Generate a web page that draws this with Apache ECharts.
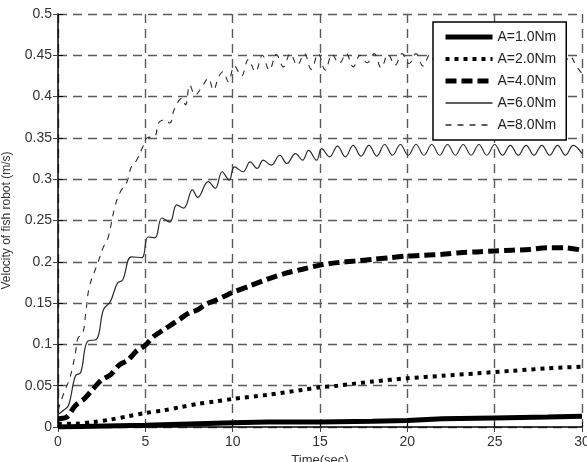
<!DOCTYPE html>
<html>
<head>
<meta charset="utf-8">
<script src="https://cdn.jsdelivr.net/npm/echarts@6/dist/echarts.min.js"></script>
<style>
  html, body { margin: 0; padding: 0; background: #fff; }
  #chart { width: 587px; height: 462px; }
</style>
</head>
<body>
<div id="chart"></div>
<script>
// values (time in sec, velocity in m/s)
const seriesNames = ["A=1.0Nm", "A=2.0Nm", "A=4.0Nm", "A=6.0Nm", "A=8.0Nm"];

const t1 = [0, 2, 5, 8, 10, 12, 15, 18, 20, 22, 25, 28, 30];
const v1 = [0.0, 0.001, 0.002, 0.004, 0.005, 0.006, 0.006, 0.007, 0.008, 0.010, 0.011, 0.012, 0.013];

const t2 = [0, 1, 2, 3, 4, 5, 6, 7, 8, 9, 10, 12, 14, 15, 16, 18, 20, 22, 24, 26, 28, 30];
const v2 = [0.004, 0.004, 0.006, 0.009, 0.013, 0.017, 0.020, 0.024, 0.028, 0.031, 0.034, 0.039, 0.045, 0.048,
            0.050, 0.055, 0.059, 0.062, 0.065, 0.068, 0.071, 0.073];

const t4 = [0, 0.5, 1, 1.5, 2, 2.5, 3, 3.5, 4, 4.5, 5, 5.5, 6, 6.5, 7, 7.5, 8, 8.5, 9, 9.5, 10,
            11, 12, 13, 14, 15, 16, 17, 18, 19, 20, 21, 22, 23, 24, 25, 26, 27, 28, 29, 30];
const v4 = [0.010, 0.012, 0.026, 0.034, 0.046, 0.057, 0.063, 0.075, 0.081, 0.092, 0.099, 0.110, 0.117, 0.124,
            0.131, 0.138, 0.142, 0.149, 0.153, 0.158, 0.163, 0.171, 0.179, 0.186, 0.191, 0.196, 0.199, 0.201,
            0.203, 0.205, 0.207, 0.208, 0.209, 0.211, 0.212, 0.213, 0.214, 0.215, 0.217, 0.217, 0.214];

const t6 = [0, 0.3, 0.6, 1.0, 1.3, 1.7, 2.2, 2.6, 3.0, 3.4, 3.7, 4.2, 4.8, 5.15, 5.55, 5.95, 6.4, 6.8, 7.2,
            7.7, 8.0, 8.6, 9.0, 9.4, 9.8, 10.1, 10.6, 11.0, 11.4, 11.75, 12.2, 12.7, 13.1, 13.6, 14.0, 14.35,
            14.8, 15.1, 15.55, 16.0, 16.45, 16.9, 17.35, 17.8, 18.25, 18.7, 19.15, 19.6, 20.05, 20.5, 20.95,
            21.4, 21.85, 22.3, 22.75, 23.2, 23.65, 24.1, 24.55, 25.0, 25.45, 25.9, 26.35, 26.8, 27.25, 27.7,
            28.15, 28.6, 29.05, 29.5, 30];
const v6 = [0.015, 0.020, 0.026, 0.062, 0.066, 0.104, 0.106, 0.142, 0.152, 0.174, 0.178, 0.206, 0.205, 0.230,
            0.229, 0.253, 0.248, 0.269, 0.265, 0.287, 0.278, 0.297, 0.289, 0.309, 0.299, 0.315, 0.309, 0.321,
            0.313, 0.323, 0.317, 0.329, 0.319, 0.331, 0.323, 0.335, 0.323, 0.337, 0.327, 0.340, 0.327, 0.341,
            0.328, 0.341, 0.328, 0.342, 0.329, 0.342, 0.329, 0.342, 0.329, 0.342, 0.329, 0.342, 0.329, 0.342,
            0.329, 0.342, 0.329, 0.342, 0.329, 0.341, 0.329, 0.341, 0.329, 0.341, 0.329, 0.341, 0.329, 0.341,
            0.331];

const t8 = [0, 0.3, 0.7, 1.0, 1.15, 1.4, 1.6, 1.8, 2.3, 2.6, 2.85, 3.25, 3.55, 3.95, 4.2, 4.5, 4.85, 5.1,
            5.55, 5.75, 6.1, 6.4, 6.65, 7.1, 7.3, 7.55, 7.85, 8.25, 8.6, 8.9, 9.2, 9.45, 9.75, 10.1, 10.5,
            10.9, 11.3, 11.7, 12.1, 12.5, 12.9, 13.3, 13.7, 14.1, 14.5, 14.9, 15.3, 15.7, 16.1, 16.5, 16.9,
            17.3, 17.7, 18.1, 18.5, 18.9, 19.3, 19.7, 20.1, 20.5, 20.9, 21.3, 21.7, 22.1, 22.5, 22.9, 23.3,
            23.7, 24.1, 24.5, 24.9, 25.3, 25.7, 26.1, 26.5, 26.9, 27.3, 27.7, 28.1, 28.5, 28.9, 29.3, 29.7, 30];
const v8 = [0.020, 0.039, 0.061, 0.090, 0.108, 0.112, 0.140, 0.170, 0.200, 0.218, 0.228, 0.266, 0.284, 0.297,
            0.315, 0.323, 0.339, 0.350, 0.352, 0.368, 0.372, 0.368, 0.384, 0.398, 0.390, 0.414, 0.402, 0.412,
            0.422, 0.408, 0.424, 0.430, 0.418, 0.437, 0.425, 0.445, 0.430, 0.450, 0.432, 0.451, 0.436, 0.452,
            0.438, 0.452, 0.433, 0.452, 0.432, 0.451, 0.440, 0.452, 0.436, 0.450, 0.441, 0.452, 0.435, 0.451,
            0.438, 0.452, 0.440, 0.452, 0.437, 0.451, 0.438, 0.452, 0.436, 0.451, 0.439, 0.452, 0.437, 0.451,
            0.438, 0.452, 0.436, 0.451, 0.439, 0.452, 0.437, 0.451, 0.436, 0.450, 0.437, 0.449, 0.436, 0.428];

const pairs = (t, v) => t.map((x, i) => [x, v[i]]);

const font = "'Liberation Sans', Arial, sans-serif";
const gridLine = { show: true, lineStyle: { color: "#5a5a5a", width: 1.4, type: [9, 6] } };

// one line style per series, shared by the plot and the legend
const styles = [
    { color: "#000", width: 5, type: "solid" },
    { color: "#000", width: 4, type: [4, 5] },
    { color: "#000", width: 5, type: [11, 5] },
    { color: "#2a2a2a", width: 1.2, type: "solid" },
    { color: "#2a2a2a", width: 1.1, type: [6, 6] },
];

const chart = echarts.init(document.getElementById("chart"));

const option = {
    animation: false,
    backgroundColor: "#fff",
    grid: { left: 58, right: 5, top: 14, bottom: 35, outerBoundsMode: "none", containLabel: false },
    legend: {
        data: seriesNames.map((name, i) => ({ name, lineStyle: { ...styles[i], width: Math.max(styles[i].width, 1.3) } })),
        orient: "vertical",
        left: 433,
        top: 22,
        padding: [8, 10, 8, 10],
        itemGap: 8,
        itemWidth: 47,
        itemHeight: 14,
        backgroundColor: "#fff",
        borderColor: "#000",
        borderWidth: 1.5,
        borderRadius: 0,
        itemStyle: { opacity: 0 },
        textStyle: { fontFamily: font, fontSize: 14, color: "#222" },
    },
    xAxis: [
        {
            type: "value",
            min: 0,
            max: 30,
            interval: 5,
            name: "Time(sec)",
            nameLocation: "middle",
            nameGap: 27,
            nameTextStyle: { fontFamily: font, fontSize: 13, color: "#333" },
            axisLine: { show: true, lineStyle: { color: "#000", width: 1.5 } },
            axisTick: { show: true, inside: true, length: 5, lineStyle: { color: "#000" } },
            axisLabel: { fontFamily: font, fontSize: 14, color: "#333", margin: 8 },
            splitLine: gridLine,
        },
        {
            type: "value",
            position: "top",
            min: 0,
            max: 30,
            interval: 5,
            axisLine: { show: false },
            axisTick: { show: true, inside: true, length: 5, lineStyle: { color: "#444" } },
            axisLabel: { show: false },
            splitLine: { show: false },
        },
    ],
    yAxis: [
        {
            type: "value",
            min: 0,
            max: 0.5,
            interval: 0.05,
            name: "Velocity of fish robot (m/s)",
            nameLocation: "middle",
            nameGap: 45,
            nameTextStyle: { fontFamily: font, fontSize: 12, color: "#333" },
            axisLine: { show: true, lineStyle: { color: "#000", width: 1.5 } },
            axisTick: { show: true, inside: true, length: 5, lineStyle: { color: "#000" } },
            axisLabel: { fontFamily: font, fontSize: 14, color: "#333", margin: 6 },
            splitLine: gridLine,
        },
        {
            type: "value",
            position: "right",
            min: 0,
            max: 0.5,
            interval: 0.05,
            axisLine: { show: false },
            axisTick: { show: true, inside: true, length: 5, lineStyle: { color: "#444" } },
            axisLabel: { show: false },
            splitLine: { show: false },
        },
    ],
    series: [
        { t: t1, v: v1, smooth: false },
        { t: t2, v: v2, smooth: 0.3 },
        { t: t4, v: v4, smooth: 0.3 },
        { t: t6, v: v6, smooth: 0.4 },
        { t: t8, v: v8, smooth: 0.4 },
    ].map((s, i) => ({
        name: seriesNames[i],
        type: "line",
        symbol: "none",
        smooth: s.smooth,
        data: pairs(s.t, s.v),
        lineStyle: styles[i],
        itemStyle: { color: styles[i].color },
    })),
};

chart.setOption(option);
</script>
</body>
</html>
